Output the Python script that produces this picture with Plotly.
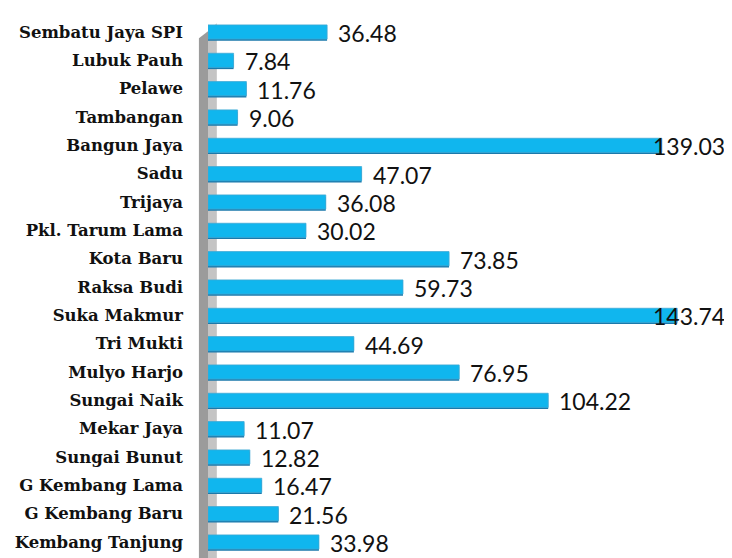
import plotly.graph_objects as go

# data
desa = ["Sembatu Jaya SPI", "Lubuk Pauh", "Pelawe", "Tambangan", "Bangun Jaya",
        "Sadu", "Trijaya", "Pkl. Tarum Lama", "Kota Baru", "Raksa Budi",
        "Suka Makmur", "Tri Mukti", "Mulyo Harjo", "Sungai Naik", "Mekar Jaya",
        "Sungai Bunut", "G Kembang Lama", "G Kembang Baru", "Kembang Tanjung"]
nilai = [36.48, 7.84, 11.76, 9.06, 139.03, 47.07, 36.08, 30.02, 73.85, 59.73,
         143.74, 44.69, 76.95, 104.22, 11.07, 12.82, 16.47, 21.56, 33.98]

x_max = 159
fig = go.Figure()

# bayangan bawah bar (efek 3D)
fig.add_trace(go.Bar(
    y=desa, x=nilai, orientation="h", width=0.5, offset=-0.19,
    marker=dict(color="#1A79AB", line=dict(width=0)),
    hoverinfo="skip", showlegend=False,
))
# bar utama
fig.add_trace(go.Bar(
    y=desa, x=nilai, orientation="h", width=0.5, offset=-0.25,
    marker=dict(color="#10B6EE", line=dict(color="#3FA9D6", width=0.8)),
    hoverinfo="x+y", showlegend=False,
))

# label nilai
for d, v in zip(desa, nilai):
    pas = v + 22 > x_max
    fig.add_annotation(
        x=x_max if pas else v, y=d, xref="x", yref="y",
        text=f"{v:.2f}", showarrow=False,
        xanchor="right" if pas else "left", xshift=0 if pas else 9, yshift=-1,
        font=dict(family="Lato", size=23, color="#111111"),
    )

# dinding abu-abu di kiri
fig.add_shape(type="path", xref="paper", yref="paper", layer="below",
              path="M -0.0175 0.957 L -0.0175 -0.03 L 0.0 -0.03 L 0.0 0.97 Z",
              fillcolor="#9b9b9b", line=dict(width=0))
fig.add_shape(type="path", xref="paper", yref="paper", layer="below",
              path="M 0.0 0.97 L 0.0 -0.03 L 0.017 -0.03 L 0.017 0.985 Z",
              fillcolor="#c4c4c4", line=dict(width=0))

# halaman punya margin 8px, jadi ukuran dikurangi
fig.update_layout(
    width=724, height=550,
    margin=dict(l=200, r=5, t=7, b=1),
    paper_bgcolor="white", plot_bgcolor="white",
    barmode="overlay",
    xaxis=dict(range=[0, x_max], visible=False, fixedrange=True),
    yaxis=dict(autorange="reversed", showgrid=False, showline=False,
               ticks="", ticklabelstandoff=24,
               tickfont=dict(family="DejaVu Serif", size=16.5, color="#111111",
                             weight="bold")),
)

fig.write_html("out.html")
